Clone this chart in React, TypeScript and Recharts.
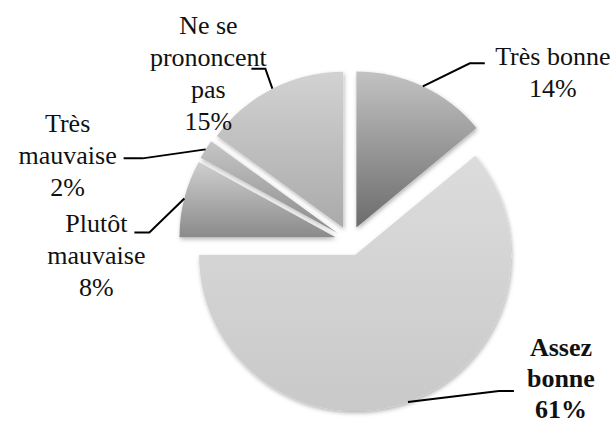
import React from "react";
import { PieChart, Pie, Cell, Sector } from "recharts";

// slices, clockwise from 12 o'clock
const CATEGORIES = ["Très bonne", "Assez bonne", "Plutôt mauvaise", "Très mauvaise", "Ne se prononcent pas"];
const SHARES = [14, 61, 8, 2, 15];
// how each label is broken over lines (percent added below)
const LABEL_ROWS = [["Très bonne"], ["Assez", "bonne"], ["Plutôt", "mauvaise"], ["Très", "mauvaise"], ["Ne se", "prononcent", "pas"]];

const GRADIENTS = [
  ["#c2c2c2", "#6c6c6c"],
  ["#dcdcdc", "#c9c9c9"],
  ["#cfcfcf", "#8a8a8a"],
  ["#c6c6c6", "#8c8c8c"],
  ["#d2d2d2", "#aaaaaa"],
];
// leader line elbow / end and text centre, relative to the slice's arc midpoint
const LEADERS = [
  { ex: 47, ey: -23, len: 15, tx: 130, ty: -30 },
  { ex: 91, ey: -11, len: 15, tx: 153, ty: -54 },
  { ex: -35, ey: 34, len: -15, tx: -88, ty: 25 },
  { ex: -63, ey: 9, len: -19, tx: -138, ty: -26 },
  { ex: -7, ey: -20, len: -14, tx: -64, ty: -63 },
];

const data = CATEGORIES.map((name, i) => ({ name, value: SHARES[i] }));

const RAD = Math.PI / 180;
const EXPLODE = 15;
const LINE_H = 32;
const FONT = '"Liberation Serif", "DejaVu Serif", serif';

function ExplodedSector(props: any) {
  const { cx, cy, midAngle } = props;
  return (
    <Sector
      {...props}
      cx={cx + EXPLODE * Math.cos(-midAngle * RAD)}
      cy={cy + EXPLODE * Math.sin(-midAngle * RAD)}
    />
  );
}

function renderLabel(props: any) {
  const { cx, cy, midAngle, outerRadius, index, value } = props;
  const r = outerRadius + EXPLODE;
  const px = cx + r * Math.cos(-midAngle * RAD);
  const py = cy + r * Math.sin(-midAngle * RAD);
  const l = LEADERS[index];
  const lines = [...LABEL_ROWS[index], `${value}%`];
  const bold = index === 1;
  return (
    <g key={`lbl-${index}`}>
      <polyline
        points={`${px},${py} ${px + l.ex},${py + l.ey} ${px + l.ex + l.len},${py + l.ey}`}
        fill="none"
        stroke="#000"
        strokeWidth={2}
      />
      <text
        x={px + l.tx}
        y={py + l.ty}
        textAnchor="middle"
        fill="#111"
        style={{ fontFamily: FONT, fontSize: 26, fontWeight: bold ? 700 : 400 }}
      >
        {lines.map((t, j) => (
          <tspan key={j} x={px + l.tx} y={py + l.ty + j * (bold ? 31 : LINE_H)} dominantBaseline="central">
            {t}
          </tspan>
        ))}
      </text>
    </g>
  );
}

export default function App() {
  return (
    <div style={{ position: "absolute", left: 0, top: 0, background: "#fff" }}>
      <PieChart width={610} height={424}>
        <defs>
          {GRADIENTS.map((g, i) => (
            <linearGradient key={i} id={`grad${i}`} x1="0" y1="0" x2="0" y2="1">
              <stop offset="0%" stopColor={g[0]} />
              <stop offset="100%" stopColor={g[1]} />
            </linearGradient>
          ))}
          <filter id="shadow" x="-20%" y="-20%" width="140%" height="140%">
            <feDropShadow dx="1" dy="2" stdDeviation="2" floodColor="#000" floodOpacity="0.3" />
          </filter>
        </defs>
        <Pie
          data={data}
          dataKey="value"
          nameKey="name"
          cx={345}
          cy={236}
          outerRadius={156}
          startAngle={90}
          endAngle={-270}
          stroke="none"
          shape={ExplodedSector}
          activeShape={ExplodedSector}
          inactiveShape={ExplodedSector}
          label={renderLabel}
          labelLine={false}
          isAnimationActive={false}
        >
          {data.map((d, i) => (
            <Cell key={d.name} fill={`url(#grad${i})`} filter="url(#shadow)" />
          ))}
        </Pie>
      </PieChart>
    </div>
  );
}
